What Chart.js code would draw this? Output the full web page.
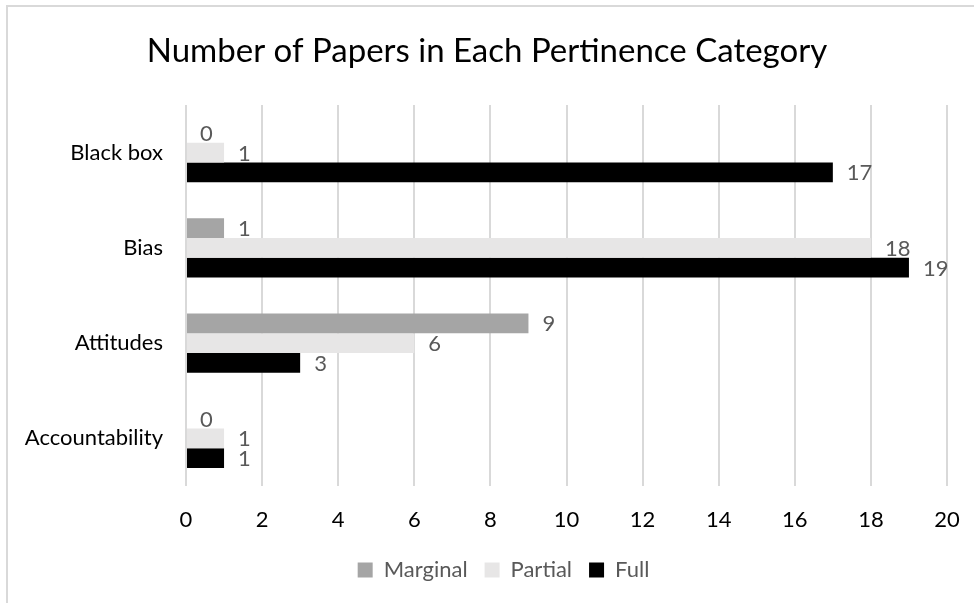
<!DOCTYPE html>
<html>
<head>
<meta charset="utf-8">
<script src="https://cdn.jsdelivr.net/npm/chart.js@4"></script>
<style>
  html, body { margin: 0; padding: 0; background: #fff; overflow: hidden; }
  #wrap { position: relative; width: 974px; height: 603px; }
  #frame { position: absolute; left: 6px; top: 5px; width: 1000px; height: 700px;
           border-top: 2px solid #d9d9d9; border-left: 2px solid #d9d9d9; }
  canvas { position: absolute; left: 0; top: 0; }
</style>
</head>
<body>
<div id="wrap">
  <div id="frame"></div>
  <canvas id="chart" width="974" height="603"></canvas>
</div>
<script>
// Categories, top to bottom
const categories = ['Black box', 'Bias', 'Attitudes', 'Accountability'];
// Number of papers per pertinence level
const marginal = [0, 1, 9, 0];
const partial  = [1, 18, 6, 1];
const full     = [17, 19, 3, 1];
// Value axis ticks
const xTickValues = [0, 2, 4, 6, 8, 10, 12, 14, 16, 18, 20];
const seriesNames = ['Marginal', 'Partial', 'Full'];
const titleText = 'Number of Papers in Each Pertinence Category';

const FONT = 'Lato';

// Chart title, centred over the whole canvas
const chartTitle = {
  id: 'chartTitle',
  afterDraw(chart) {
    const ctx = chart.ctx;
    ctx.save();
    ctx.font = '33px ' + FONT;
    ctx.fillStyle = '#000';
    ctx.textAlign = 'center';
    ctx.textBaseline = 'alphabetic';
    ctx.fillText(titleText, chart.width / 2, 62);
    ctx.restore();
  }
};

// Value labels just past the end of each bar
const valueLabels = {
  id: 'valueLabels',
  afterDatasetsDraw(chart) {
    const ctx = chart.ctx;
    ctx.save();
    ctx.font = '22px ' + FONT;
    ctx.fillStyle = '#595959';
    ctx.textAlign = 'left';
    ctx.textBaseline = 'middle';
    chart.data.datasets.forEach((ds, i) => {
      chart.getDatasetMeta(i).data.forEach((bar, j) => {
        ctx.fillText(String(ds.data[j]), bar.x + 14, bar.y + 1);
      });
    });
    ctx.restore();
  }
};

// Nudge the legend row so it sits under the plot area
const legendShift = {
  id: 'legendShift',
  afterLayout(chart) {
    if (chart.legend) {
      chart.legend.left += 30;
      chart.legend.right += 30;
    }
  }
};

new Chart(document.getElementById('chart'), {
  type: 'bar',
  data: {
    labels: categories,
    datasets: [
      { label: seriesNames[0], data: marginal, backgroundColor: '#a5a5a5', borderWidth: 0 },
      { label: seriesNames[1], data: partial,  backgroundColor: '#e7e6e6', borderWidth: 0 },
      { label: seriesNames[2], data: full,     backgroundColor: '#000000', borderWidth: 0 }
    ]
  },
  options: {
    indexAxis: 'y',
    responsive: false,
    animation: false,
    categoryPercentage: 0.622,
    barPercentage: 1,
    layout: { padding: { left: 0, right: 27, top: 105, bottom: 12 } },
    scales: {
      x: {
        min: 0, max: 20,
        afterBuildTicks: s => { s.ticks = xTickValues.map(v => ({ value: v })); },
        afterFit: s => { s.height = 56; },
        grid: { color: '#d9d9d9', lineWidth: 2, drawTicks: true, tickLength: 21, tickColor: 'rgba(0,0,0,0)' },
        border: { display: false },
        ticks: { color: '#000', padding: 0, font: { family: FONT, size: 22 } }
      },
      y: {
        afterFit: s => { s.width = 186; },
        grid: { display: false, drawTicks: false },
        border: { display: false },
        ticks: { color: '#000', padding: 23, font: { family: FONT, size: 22 } }
      }
    },
    plugins: {
      legend: {
        position: 'bottom',
        labels: {
          boxWidth: 15, boxHeight: 15, padding: 17,
          color: '#595959',
          font: { family: FONT, size: 22 }
        }
      },
      tooltip: { enabled: false }
    }
  },
  plugins: [chartTitle, valueLabels, legendShift]
});
</script>
</body>
</html>
